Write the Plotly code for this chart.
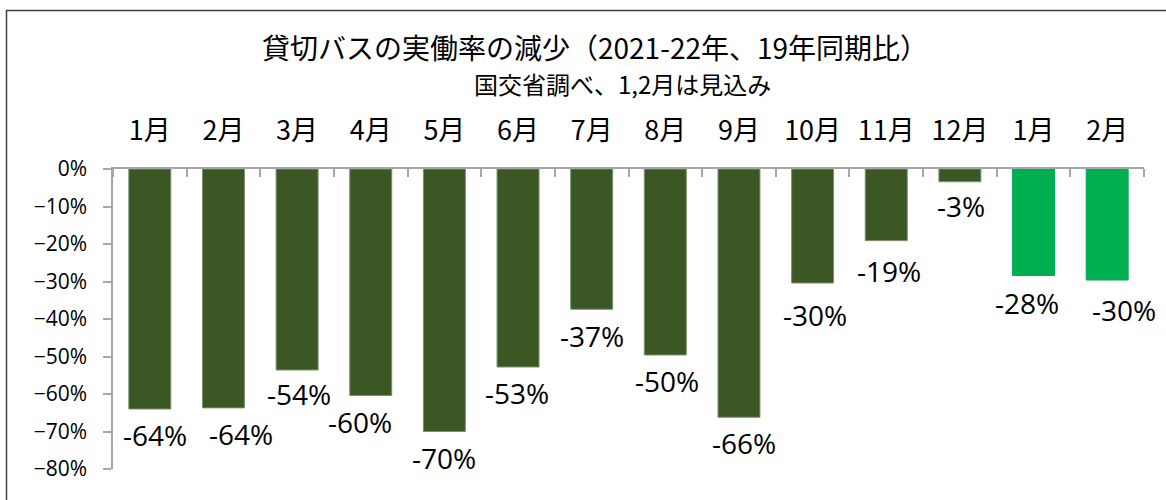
import plotly.graph_objects as go

months = ["1月", "2月", "3月", "4月", "5月", "6月", "7月", "8月", "9月", "10月", "11月", "12月", "1月", "2月"]
change = [-0.640, -0.637, -0.536, -0.604, -0.700, -0.528, -0.374, -0.496, -0.662, -0.304, -0.191, -0.034, -0.284, -0.296]
forecast = [False] * 12 + [True] * 2

title = "貸切バスの実働率の減少（2021-22年、19年同期比）"
subtitle = "国交省調べ、1,2月は見込み"

DARK = "#3b5724"
BRIGHT = "#00b050"
AXIS = "#a6a6a6"

# pixel nudges of the data labels (manually moved in the original chart)
label_dx = [5, 18, 2, -11, 0, -1, 0, 2, 5, 2, 3, 1, -7, 17]
label_dy = [0, 0, 2, 0, 0, 0, -1, 0, 0, -6, -4, 2, -1, -4]

idx = list(range(len(months)))
colors = [BRIGHT if f else DARK for f in forecast]
line_colors = [BRIGHT if f else "#7d8f70" for f in forecast]

fig = go.Figure()
fig.add_trace(go.Bar(
    x=idx, y=change,
    marker=dict(color=colors, line=dict(color=line_colors, width=1)),
    width=0.57,
    hoverinfo="skip",
))

for i, v, dx, dy in zip(idx, change, label_dx, label_dy):
    fig.add_annotation(
        x=i, y=v, xref="x", yref="y",
        text=f"{round(v * 100):d}%",
        showarrow=False, yanchor="middle", xshift=dx, yshift=-26 + dy,
        font=dict(family="Open Sans, Lato, sans-serif", size=28, color="#000000"),
    )

L, R, T, B = 113, 22, 169, 31
W, H = 1166, 500
pw, ph = W - L - R, H - T - B

def px_to_paper_x(px):
    return (px - L) / pw

def px_to_paper_y(py):
    return (H - B - py) / ph

fig.add_annotation(
    x=px_to_paper_x(595), y=px_to_paper_y(47), xref="paper", yref="paper",
    text=title, showarrow=False, xanchor="center", yanchor="middle",
    font=dict(family="Noto Sans CJK JP", size=28, color="#000000"),
)
fig.add_annotation(
    x=px_to_paper_x(622), y=px_to_paper_y(84), xref="paper", yref="paper",
    text=subtitle, showarrow=False, xanchor="center", yanchor="middle",
    font=dict(family="Noto Sans CJK JP", size=24, color="#000000"),
)

fig.add_shape(
    type="rect", xref="paper", yref="paper",
    x0=px_to_paper_x(6.5), x1=px_to_paper_x(1190),
    y0=px_to_paper_y(520), y1=px_to_paper_y(10.5),
    line=dict(color="#3f3f3f", width=1.5), fillcolor="rgba(0,0,0,0)", layer="below",
)

fig.update_layout(
    width=W, height=H,
    margin=dict(l=L, r=R, t=T, b=B, pad=0),
    paper_bgcolor="white", plot_bgcolor="white",
    showlegend=False,
    xaxis=dict(
        side="top", range=[-0.5, len(months) - 0.5],
        tickvals=idx, ticktext=months, ticks="",
        tickfont=dict(family="Noto Sans CJK JP", size=27, color="#000000"),
        ticklabelstandoff=16,
        showline=True, linecolor=AXIS, linewidth=1.5,
        showgrid=False, zeroline=False,
        minor=dict(tickvals=[i - 0.5 for i in range(len(months) + 1)], ticks="inside",
                   ticklen=8, tickcolor=AXIS, tickwidth=1.5, showgrid=False),
    ),
    yaxis=dict(
        range=[-0.8, 0], dtick=0.1, tickformat=".0%",
        ticks="outside", ticklen=8, tickcolor=AXIS, tickwidth=1.5,
        tickfont=dict(family="Open Sans, Lato, sans-serif", size=21, color="#000000"),
        ticklabelstandoff=12,
        showline=True, linecolor=AXIS, linewidth=1.5,
        showgrid=False, zeroline=False,
    ),
)

fig.write_html("out.html", config={"displayModeBar": False},
               post_script="document.body.style.margin='0';")
